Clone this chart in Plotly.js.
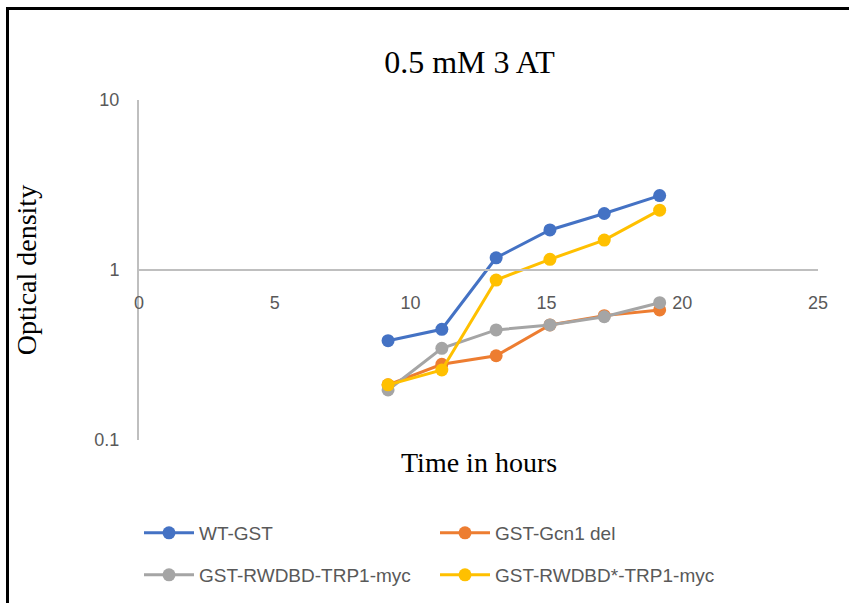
<!DOCTYPE html>
<html>
<head>
<meta charset="utf-8">
<script src="https://cdn.plot.ly/plotly-3.0.1.min.js"></script>
<style>
  html, body { margin: 0; padding: 0; background: #fff; }
  #wrap { position: relative; width: 849px; height: 603px; }
  #chart { width: 849px; height: 603px; }
  #frame { position: absolute; left: 6px; top: 7px; width: 843px; height: 596px;
           border-left: 3px solid #000; border-top: 3px solid #000; pointer-events: none; box-sizing: border-box; }
</style>
</head>
<body>
<div id="wrap">
  <div id="chart"></div>
  <div id="frame"></div>
</div>
<script>
const timeHours = [9.17, 11.15, 13.15, 15.13, 17.13, 19.17];
const wtGst = [0.384, 0.448, 1.18, 1.72, 2.15, 2.74];
const gcn1Del = [0.211, 0.279, 0.313, 0.475, 0.539, 0.582];
const rwdbd = [0.197, 0.346, 0.444, 0.475, 0.531, 0.642];
const rwdbdStar = [0.211, 0.258, 0.873, 1.156, 1.50, 2.25];
const seriesNames = ['WT-GST', 'GST-Gcn1 del', 'GST-RWDBD-TRP1-myc', 'GST-RWDBD*-TRP1-myc'];
const seriesColors = ['#4472C4', '#ED7D31', '#A5A5A5', '#FFC000'];
const yTickVals = [0.1, 1, 10];
const yTickText = ['0.1', '1', '10'];

const seriesData = [wtGst, gcn1Del, rwdbd, rwdbdStar];
const legendIds = ['legend', 'legend', 'legend2', 'legend2'];

const traces = seriesData.map((ys, i) => ({
  type: 'scatter',
  mode: 'lines+markers',
  name: seriesNames[i],
  x: timeHours,
  y: ys,
  legend: legendIds[i],
  line: { color: seriesColors[i], width: 3 },
  marker: { color: seriesColors[i], size: 13, symbol: 'circle' }
}));

const tickFont = { family: 'Liberation Sans, Arial, sans-serif', size: 18, color: '#595959' };
const legendFont = { family: 'Liberation Sans, Arial, sans-serif', size: 19, color: '#595959' };
const serif = 'Liberation Serif, Times New Roman, serif';

const legendCommon = {
  orientation: 'h',
  xanchor: 'left', yanchor: 'middle',
  yref: 'container',
  entrywidth: 231, entrywidthmode: 'pixels',
  itemwidth: 50,
  font: legendFont,
  bgcolor: 'rgba(0,0,0,0)'
};

const layout = {
  width: 849,
  height: 603,
  margin: { l: 139, r: 31, t: 100, b: 163 },
  paper_bgcolor: '#fff',
  plot_bgcolor: '#fff',
  title: {
    text: '0.5 mM 3 AT',
    font: { family: serif, size: 32, color: '#000' },
    xref: 'container', x: 0.553, xanchor: 'center',
    yref: 'container', y: 1 - 62 / 603, yanchor: 'middle'
  },
  xaxis: {
    range: [0, 25],
    dtick: 5,
    tick0: 0,
    anchor: 'free',
    position: 0.5,
    showgrid: false,
    zeroline: false,
    showline: true,
    linecolor: '#BFBFBF',
    linewidth: 2,
    ticks: '',
    ticklabelstandoff: 16,
    tickfont: tickFont,
    automargin: false
  },
  yaxis: {
    type: 'log',
    range: [-1, 1],
    tickvals: yTickVals,
    ticktext: yTickText,
    showgrid: false,
    zeroline: false,
    showline: true,
    linecolor: '#BFBFBF',
    linewidth: 2,
    ticks: '',
    ticklabelstandoff: 14,
    tickfont: tickFont,
    automargin: false,
    title: { text: 'Optical density', font: { family: serif, size: 28, color: '#000' }, standoff: 50 }
  },
  annotations: [{
    text: 'Time in hours',
    xref: 'paper', yref: 'paper',
    x: 0.5, y: -22 / 340,
    xanchor: 'center', yanchor: 'middle',
    showarrow: false,
    font: { family: serif, size: 28, color: '#000' }
  }],
  showlegend: true,
  legend: Object.assign({}, legendCommon, { x: 0.0, y: 1 - 533 / 603 }),
  legend2: Object.assign({}, legendCommon, { x: 0.0, y: 1 - 575 / 603 })
};

Plotly.newPlot('chart', traces, layout, { displayModeBar: false, staticPlot: true });
</script>
</body>
</html>
